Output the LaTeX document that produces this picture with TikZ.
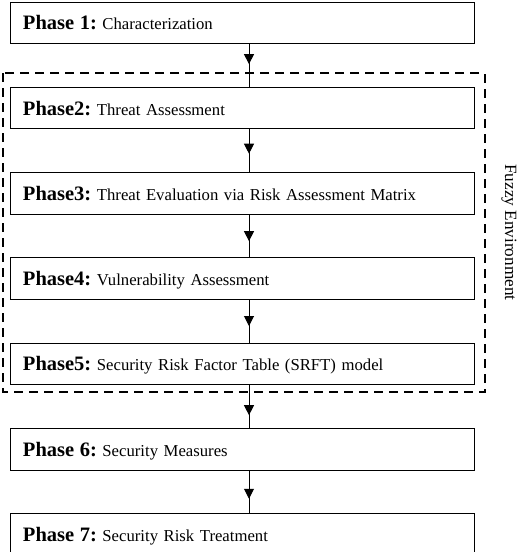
\documentclass[tikz,border=0pt]{standalone}
\usepackage{fontspec}
\setmainfont{Liberation Serif}
\usetikzlibrary{positioning, arrows.meta, calc}
\newcommand{\phasetag}[1]{{\fontsize{20.5}{24}\selectfont\bfseries #1}}

\begin{document}
\begin{tikzpicture}[x=1pt,y=1pt,node distance=42.8pt,
  phase/.style={draw,line width=1pt,minimum width=464pt,minimum height=41.5pt,
    text width=438pt,align=left,inner sep=0pt,text height=14pt,text depth=0pt,
    font=\fontsize{16.7}{19}\selectfont\frenchspacing},
  envbox/.style={line width=2pt,dash pattern=on 9pt off 6pt}]
\useasboundingbox (0,0) rectangle (520,-552);
\node[phase] (p1) at (242,-22.75) {\phasetag{Phase 1:} Characterization};
\node[phase,below=of p1] (p2) {\phasetag{Phase2:} Threat Assessment};
\node[phase,below=of p2] (p3) {\phasetag{Phase3:} Threat Evaluation via Risk Assessment Matrix};
\node[phase,below=of p3] (p4) {\phasetag{Phase4:} Vulnerability Assessment};
\node[phase,below=of p4] (p5) {\phasetag{Phase5:} Security Risk Factor Table (SRFT) model};
\node[phase,below=of p5] (p6) {\phasetag{Phase 6:} Security Measures};
\node[phase,below=of p6] (p7) {\phasetag{Phase 7:} Security Risk Treatment};

\draw[envbox] (3,-73) rectangle (484.5,-392);
\node[rotate=-90,font=\fontsize{17.2}{20}\selectfont] (fuzzy) at (509,-232.5) {Fuzzy Environment};

\begin{scope}[>={Triangle[length=10pt,width=10pt]},line width=1pt]
\foreach \a/\b/\f in {p1/p2/0.47,p2/p3/0.57,p3/p4/0.62,p4/p5/0.61,p5/p6/0.70,p6/p7/0.66} {
  \draw ([xshift=7pt]\a.south) -- ([xshift=7pt]\b.north);
  \draw[->] ([xshift=7pt]\a.south) -- ($([xshift=7pt]\a.south)!\f!([xshift=7pt]\b.north)$);
}
\end{scope}
\end{tikzpicture}
\end{document}
